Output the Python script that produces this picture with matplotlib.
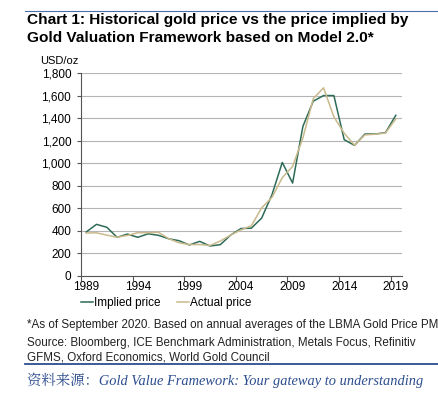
import matplotlib.pyplot as plt
from matplotlib.lines import Line2D
from matplotlib.ticker import FixedLocator, NullFormatter

plt.rcParams['font.family'] = ['Liberation Sans', 'DejaVu Sans']

years = list(range(1989, 2020))
implied = [390, 458, 432, 343, 372, 343, 374, 361, 330, 313, 275, 307, 266, 278,
           363, 421, 424, 513, 720, 1007, 824, 1327, 1550, 1600, 1600, 1209,
           1158, 1259, 1259, 1271, 1425]
actual = [381, 383, 362, 344, 360, 384, 384, 388, 331, 294, 279, 279, 271, 310,
          363, 409, 445, 604, 697, 872, 972, 1225, 1572, 1669, 1411, 1266,
          1160, 1251, 1257, 1268, 1393]
label_years = [1989, 1994, 1999, 2004, 2009, 2014, 2019]

W, H = 439, 399
fig = plt.figure(figsize=(W / 100, H / 100), dpi=100)

def px(x, y):
    return x / W, 1 - y / H

# plot area in pixels
left, right, top, bottom = 81, 402, 73, 276
ax = fig.add_axes([left / W, 1 - bottom / H, (right - left) / W, (bottom - top) / H])

green = '#2e6b57'
tan = '#c9b98c'
ax.plot(years, implied, color=green, lw=1.1, label='Implied price')
ax.plot(years, actual, color=tan, lw=1.1, label='Actual price')

ax.set_xlim(1988.5, 2019.6)
ax.set_ylim(0, 1800)
ax.set_yticks(range(0, 1801, 200))
ax.set_yticklabels([f'{v:,}' for v in range(0, 1801, 200)], fontsize=8.5)
ax.yaxis.grid(True, color='#b4b4b4', lw=0.8)
ax.set_axisbelow(True)

# tick marks at category boundaries, labels at the year
ax.xaxis.set_major_locator(FixedLocator([y - 0.5 for y in label_years]))
ax.xaxis.set_major_formatter(NullFormatter())
ax.xaxis.set_minor_locator(FixedLocator(label_years))
ax.set_xticklabels([str(y) for y in label_years], minor=True, fontsize=8.5)
ax.tick_params(axis='x', which='major', length=3.5, color='#555555', width=0.8)
ax.tick_params(axis='x', which='minor', length=0, pad=3.5)
ax.tick_params(axis='y', length=3, color='#555555', width=0.8, pad=4)

for s in ['top', 'right']:
    ax.spines[s].set_visible(False)
for s in ['left', 'bottom']:
    ax.spines[s].set_color('#555555')
    ax.spines[s].set_linewidth(0.8)

ax.legend(handles=[Line2D([], [], color=green, lw=1.1), Line2D([], [], color=tan, lw=1.1)],
          labels=['Implied price', 'Actual price'], loc='center',
          bbox_to_anchor=(0.265, -0.135), ncol=2, frameon=False, fontsize=8.5,
          handlelength=1.0, handletextpad=0.1, columnspacing=1.4)

# title and notes
fig.text(*px(27, 20), 'Chart 1: Historical gold price vs the price implied by',
         fontsize=11.1, fontweight='bold', va='center')
fig.text(*px(27, 38), 'Gold Valuation Framework based on Model 2.0*',
         fontsize=11.1, fontweight='bold', va='center')
fig.text(*px(40, 61), 'USD/oz', fontsize=8, va='center')

fig.text(*px(27, 325), '*As of September 2020. Based on annual averages of the LBMA Gold Price PM',
         fontsize=8.4, va='center', color='#222222')
fig.text(*px(27, 343), 'Source: Bloomberg, ICE Benchmark Administration, Metals Focus, Refinitiv',
         fontsize=8.4, va='center', color='#222222')
fig.text(*px(27, 357), 'GFMS, Oxford Economics, World Gold Council',
         fontsize=8.4, va='center', color='#222222')

blue = '#2c4d8e'
fig.add_artist(Line2D([25 / W, 1], [1 - 11 / H, 1 - 11 / H], color='#4a6fb0', lw=0.8))
fig.add_artist(Line2D([25 / W, 1], [1 - 364 / H, 1 - 364 / H], color=blue, lw=1.3))

fig.text(*px(27, 380), '资料来源：Gold Value Framework: Your gateway to understanding',
         fontsize=10.4, style='italic', color=blue, va='center',
         family=['Liberation Serif', 'Noto Serif CJK SC', 'Noto Sans CJK SC'])

fig.savefig('out.png', dpi=100)
